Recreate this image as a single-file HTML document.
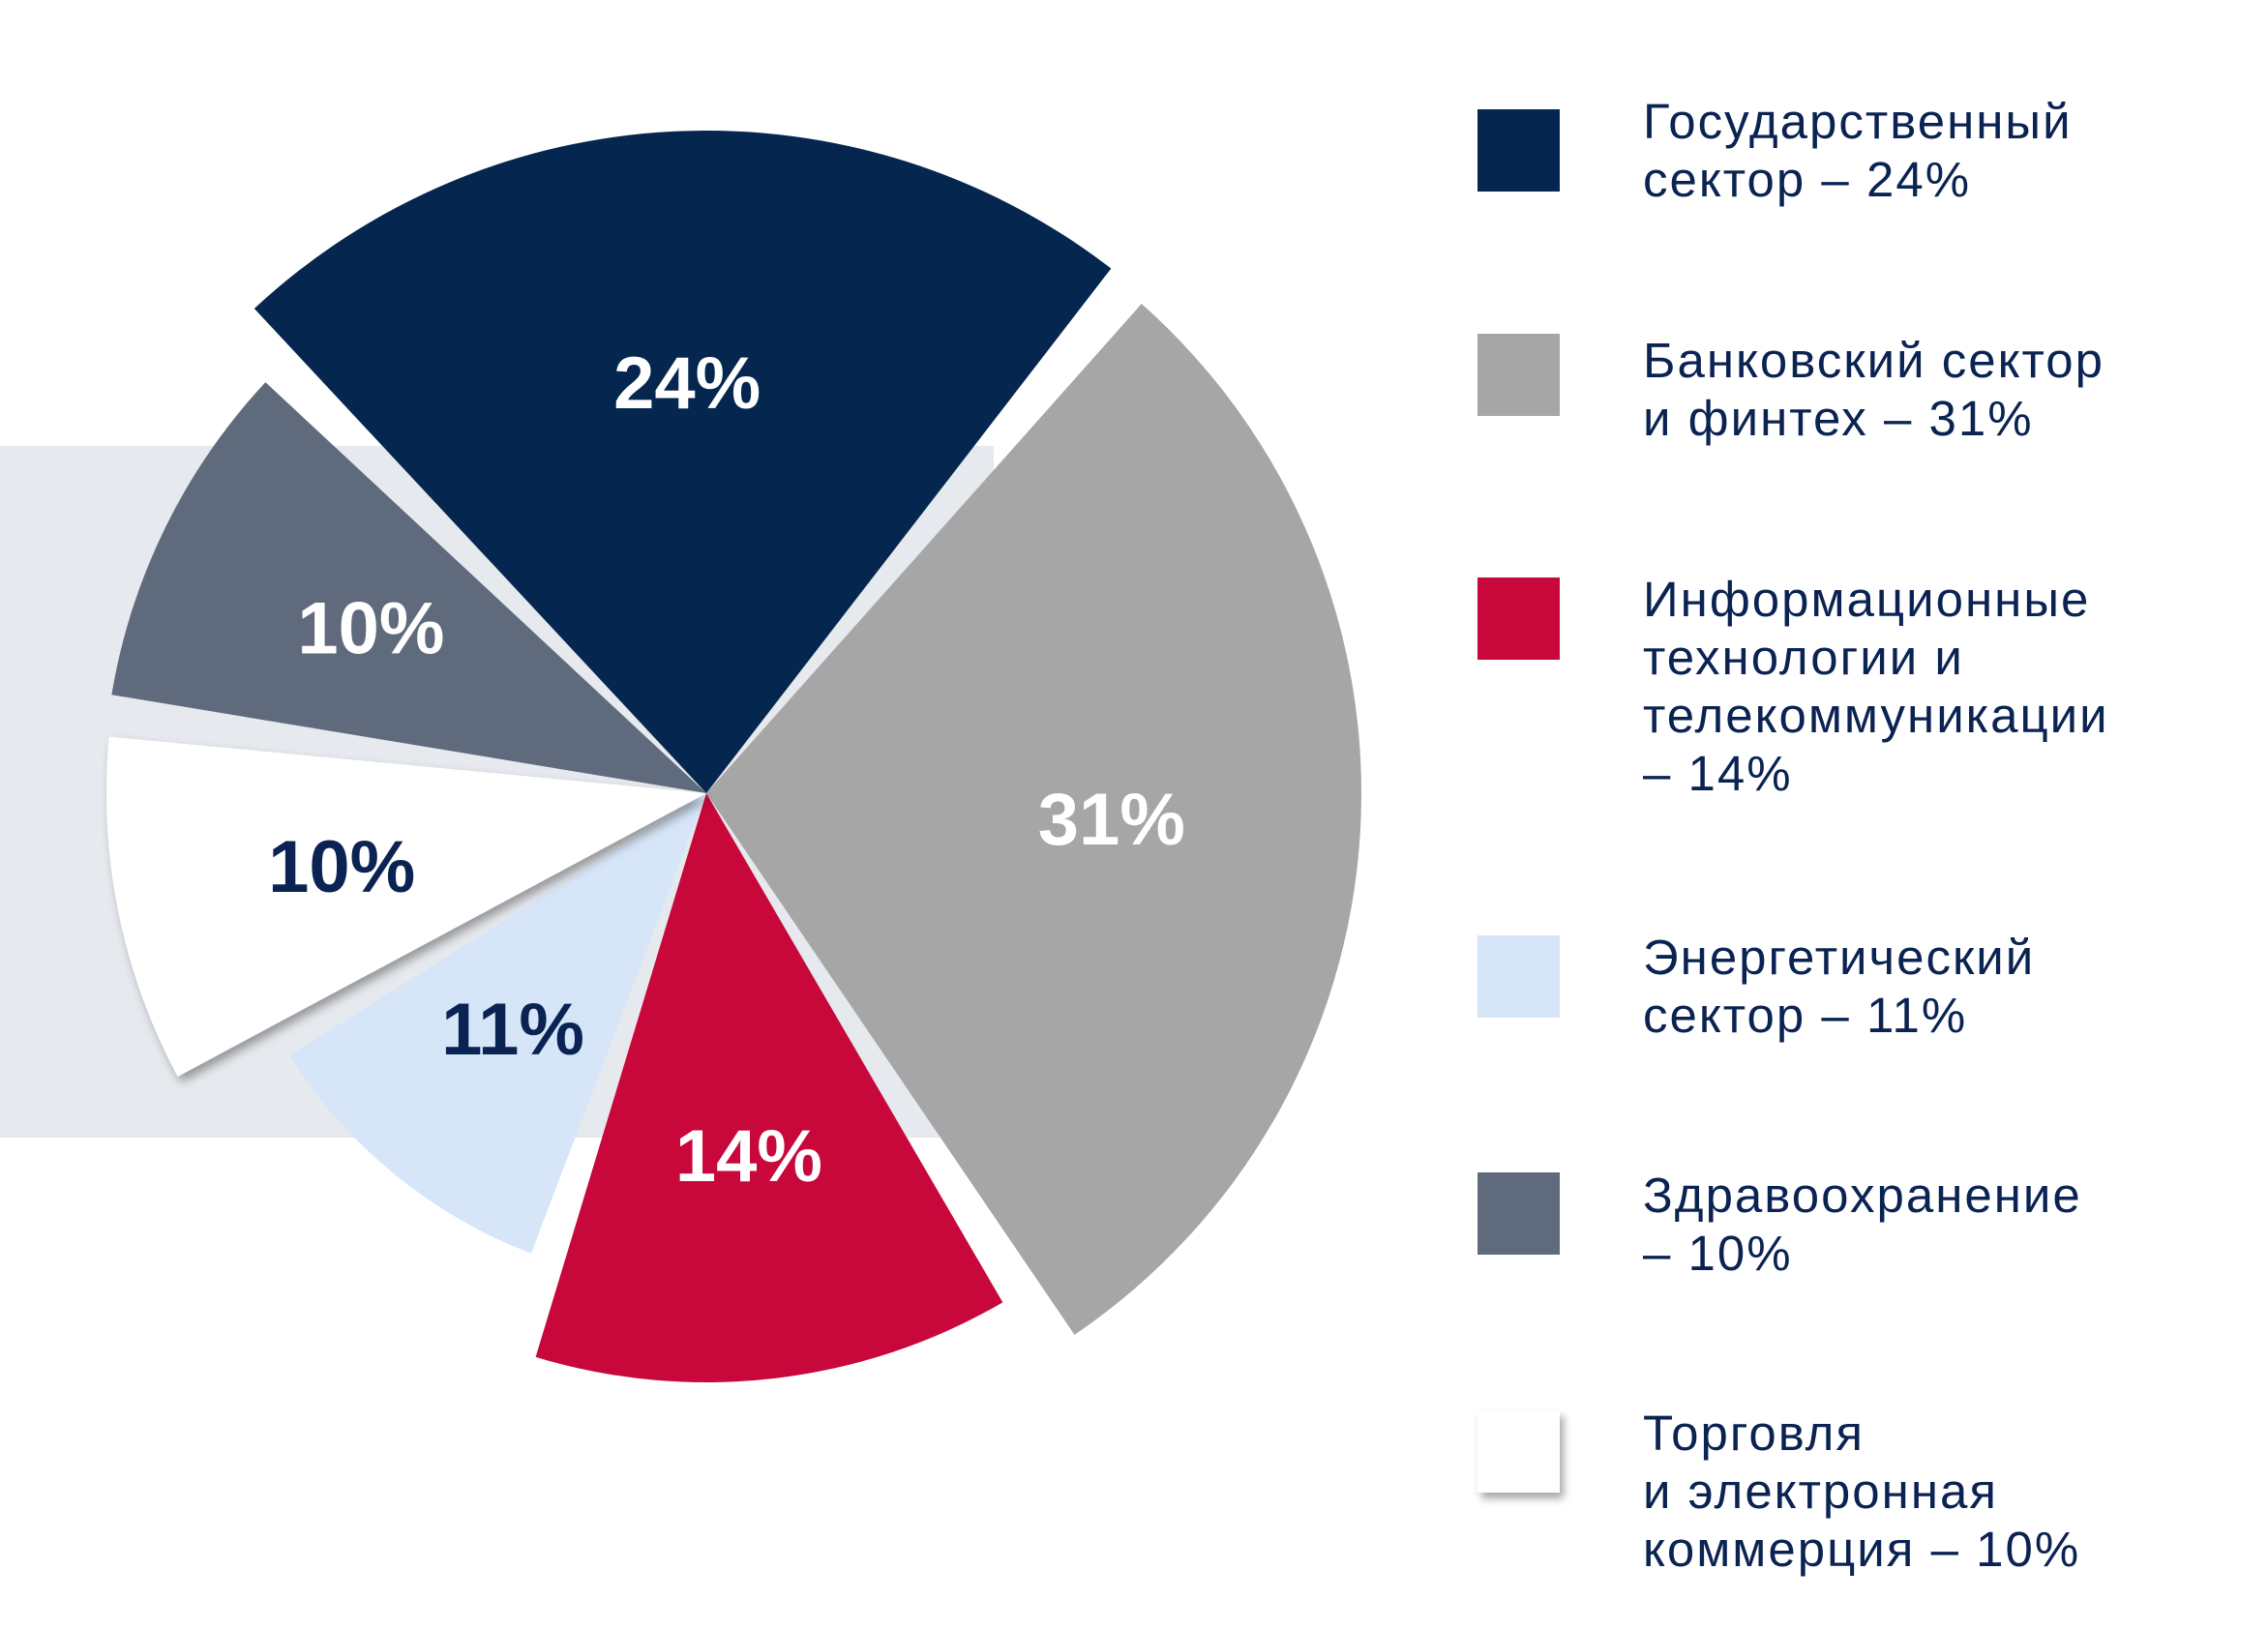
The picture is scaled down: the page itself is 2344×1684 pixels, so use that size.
<!DOCTYPE html>
<html><head><meta charset="utf-8"><style>
html,body{margin:0;padding:0;background:#fff;}
body{width:2344px;height:1684px;position:relative;overflow:hidden;font-family:"Liberation Sans",sans-serif;}
.leg{position:absolute;left:1527px;width:85px;height:85px;}
.lt{position:absolute;left:1698px;font-size:51px;line-height:60px;color:#0a2352;letter-spacing:2px;white-space:nowrap;}
</style></head><body>
<div style="position:absolute;left:0;top:461px;width:1027px;height:715px;background:#e6e9ee;"></div>
<svg id="pie" width="2344" height="1684" style="position:absolute;left:0;top:0;">
<defs><filter id="sh" x="-20%" y="-20%" width="140%" height="140%"><feDropShadow dx="4" dy="6" stdDeviation="5" flood-color="#000" flood-opacity="0.35"/></filter></defs>
</svg>
<div class="leg" style="top:113px;background:#05264f"></div>
<div class="lt" style="top:96px">Государственный<br>сектор – 24%</div>
<div class="leg" style="top:345px;background:#a6a6a6"></div>
<div class="lt" style="top:343px">Банковский сектор<br>и финтех – 31%</div>
<div class="leg" style="top:597px;background:#c8073a"></div>
<div class="lt" style="top:590px">Информационные<br>технологии и<br>телекоммуникации<br>– 14%</div>
<div class="leg" style="top:967px;background:#d6e6f8"></div>
<div class="lt" style="top:960px">Энергетический<br>сектор – 11%</div>
<div class="leg" style="top:1212px;background:#5f6b7d"></div>
<div class="lt" style="top:1206px">Здравоохранение<br>– 10%</div>
<div class="leg" style="top:1458px;background:#fff;box-shadow:4px 6px 8px rgba(0,0,0,0.35)"></div>
<div class="lt" style="top:1452px">Торговля<br>и электронная<br>коммерция – 10%</div>
<script>
const categories=["gov","bank","it","energy","health","retail"];
const values=[24,31,14,11,10,10];
const labels=["24%","31%","14%","11%","10%","10%"];
const order=[0,1,2,3,5,4];
const colors={gov:"#05264f",bank:"#a6a6a6",it:"#c8073a",energy:"#d6e6f8",health:"#5f6b7d",retail:"#ffffff"};
const textColors={gov:"#fff",bank:"#fff",it:"#fff",energy:"#0a2352",health:"#fff",retail:"#0a2352"};
const radii={gov:685,bank:677,it:609,energy:509,health:623,retail:620};
const cx=730,cy=820,gap=4,start=-43;
const svg=document.getElementById('pie');
const NS="http://www.w3.org/2000/svg";
const total=values.reduce((a,b)=>a+b,0);
const avail=360-gap*order.length;
function pt(a,r){const t=(a-90)*Math.PI/180;return [cx+r*Math.cos(t),cy+r*Math.sin(t)];}
let a=start;
const textLayer=[];
order.forEach(i=>{
  const k=categories[i];const sw=values[i]/total*avail;const r=radii[k];
  const a0=a,a1=a+sw;
  const p0=pt(a0,r),p1=pt(a1,r);
  const p=document.createElementNS(NS,'path');
  p.setAttribute('d',`M${cx},${cy} L${p0[0]},${p0[1]} A${r},${r} 0 ${sw>180?1:0} 1 ${p1[0]},${p1[1]} Z`);
  p.setAttribute('fill',colors[k]);
  if(k==='retail')p.setAttribute('filter','url(#sh)');
  
  
  svg.appendChild(p);
  const lp=pt((a0+a1)/2,r*0.62);
  const t=document.createElementNS(NS,'text');
  t.setAttribute('x',lp[0]);t.setAttribute('y',lp[1]+26);
  t.setAttribute('text-anchor','middle');
  t.setAttribute('font-family','Liberation Sans, sans-serif');
  t.setAttribute('font-weight','bold');t.setAttribute('font-size','76');
  t.setAttribute('fill',textColors[k]);
  t.textContent=labels[i];
  
  
  textLayer.push(t);
  a=a1+gap;
});
textLayer.forEach(t=>svg.appendChild(t));
</script>
</body></html>
